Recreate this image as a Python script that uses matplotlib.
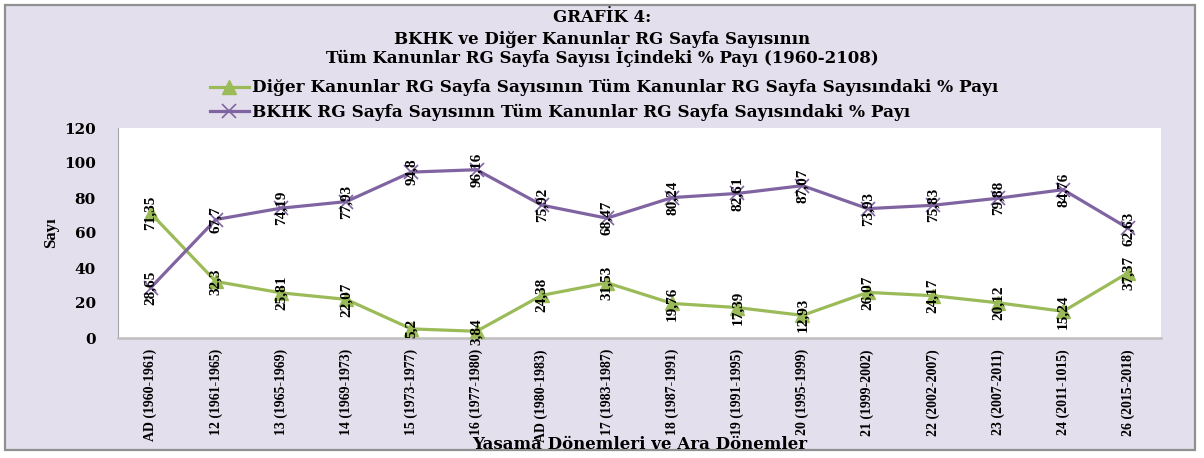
import matplotlib
matplotlib.use("Agg")
import matplotlib.pyplot as plt
import matplotlib.patches as mpatches

# DATA
donemler = ["AD (1960-1961)", "12 (1961-1965)", "13 (1965-1969)", "14 (1969-1973)",
            "15 (1973-1977)", "16 (1977-1980)", "AD (1980-1983)", "17 (1983-1987)",
            "18 (1987-1991)", "19 (1991-1995)", "20 (1995-1999)", "21 (1999-2002)",
            "22 (2002-2007)", "23 (2007-2011)", "24 (2011-1015)", "26 (2015-2018)"]
diger_pay = [71.35, 32.3, 25.81, 22.07, 5.2, 3.84, 24.38, 31.53,
             19.76, 17.39, 12.93, 26.07, 24.17, 20.12, 15.24, 37.37]
bkhk_pay = [28.65, 67.7, 74.19, 77.93, 94.8, 96.16, 75.92, 68.47,
            80.24, 82.61, 87.07, 73.93, 75.83, 79.88, 84.76, 62.63]
y_ticks = [0, 20, 40, 60, 80, 100, 120]

diger_label = "Diğer Kanunlar RG Sayfa Sayısının Tüm Kanunlar RG Sayfa Sayısındaki % Payı"
bkhk_label = "BKHK RG Sayfa Sayısının Tüm Kanunlar RG Sayfa Sayısındaki % Payı"
title_lines = ["GRAFİK 4:",
               "BKHK ve Diğer Kanunlar RG Sayfa Sayısının",
               "Tüm Kanunlar RG Sayfa Sayısı İçindeki % Payı (1960-2108)"]

GREEN = "#9BBB59"
PURPLE = "#8064A2"
LAVENDER = "#E4DFEC"
W, H = 1204, 458

head_font = "DejaVu Serif"
body_font = "Liberation Serif"


def fmt(v):
    return f"{v:g}".replace(".", ",")


fig = plt.figure(figsize=(W / 100, H / 100), dpi=100, facecolor="white")

# background frame
frame = mpatches.Rectangle((5 / W, 1 - 450 / H), 1190 / W, 445 / H,
                           transform=fig.transFigure, facecolor=LAVENDER,
                           edgecolor="#909090", linewidth=1.6, zorder=-10)
fig.patches.append(frame)

ax = fig.add_axes([118 / W, 1 - 338 / H, 1043 / W, 210 / H])
ax.set_facecolor("white")

x = list(range(len(donemler)))
ax.plot(x, diger_pay, color=GREEN, lw=2.3, marker="^", ms=10,
        mfc=GREEN, mec=GREEN, label=diger_label, zorder=3)
ax.plot(x, bkhk_pay, color=PURPLE, lw=2.3, marker="x", ms=10, mew=1.2,
        mec=PURPLE, label=bkhk_label, zorder=3)

for xi, v in zip(x, diger_pay):
    ax.text(xi, v, fmt(v), rotation=90, ha="center", va="center",
            fontsize=11, fontweight="bold", family=body_font, zorder=4)
for xi, v in zip(x, bkhk_pay):
    ax.text(xi, v, fmt(v), rotation=90, ha="center", va="center",
            fontsize=11, fontweight="bold", family=body_font, zorder=4)

ax.set_xlim(-0.5, len(donemler) - 0.5)
ax.set_ylim(0, 120)
ax.set_yticks(y_ticks)
ax.set_yticklabels([str(t) for t in y_ticks], fontsize=11,
                   fontweight="bold", family=head_font)
ax.set_xticks(x)
ax.set_xticklabels(donemler, rotation=90, fontsize=10, fontweight="bold",
                   family=body_font, va="top")
ax.tick_params(axis="y", length=0, pad=16)
ax.tick_params(axis="x", length=0, pad=8)

for s in ["top", "right"]:
    ax.spines[s].set_visible(False)
ax.spines["left"].set_color("#A6A6A6")
ax.spines["bottom"].set_color("#BFBFBF")
ax.spines["bottom"].set_linewidth(1.8)

ax.set_ylabel("Sayı", fontsize=12, fontweight="bold", family=body_font)
ax.yaxis.set_label_coords(-(118 - 59) / 1043, 0.5)
ax.set_xlabel("Yasama Dönemleri ve Ara Dönemler", fontsize=12,
              fontweight="bold", family=head_font)
ax.xaxis.set_label_coords(0.5, -(444 - 338) / 210)
ax.xaxis.label.set_va("center")

# title
for txt, ypx in zip(title_lines, [17, 39, 57]):
    fig.text(0.5, 1 - ypx / H, txt, ha="center", va="center",
             fontsize=12, fontweight="bold", family=head_font)

leg = fig.legend(loc="center left", bbox_to_anchor=(210 / W, 1 - 100 / H),
                 frameon=False, handlelength=2.3, handletextpad=0.2,
                 labelspacing=0.42, borderpad=0, borderaxespad=0,
                 prop={"family": head_font, "weight": "bold", "size": 12.2})

fig.savefig("out.png", dpi=100, facecolor="white")
